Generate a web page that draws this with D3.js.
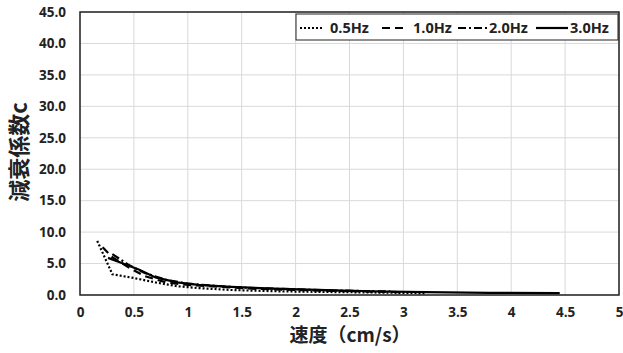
<!DOCTYPE html>
<html>
<head>
<meta charset="utf-8">
<script src="https://d3js.org/d3.v7.min.js"></script>
<style>
body { margin: 0; background: #fff; }
text { font-family: "Noto Sans CJK JP", "Noto Sans", sans-serif; font-weight: bold; }
</style>
</head>
<body>
<script>
// 各周波数の測定値
var seriesNames = ["0.5Hz", "1.0Hz", "2.0Hz", "3.0Hz"];
var speed05 = [0.16, 0.3, 0.5, 0.7, 0.9, 1.1, 1.4, 1.8, 2.2, 2.7, 3.2];
var damp05  = [8.6, 3.3, 2.7, 2.0, 1.4, 1.1, 0.8, 0.6, 0.5, 0.4, 0.3];
var speed10 = [0.21, 0.3, 0.45, 0.6, 0.8, 1.0, 1.3, 1.6, 2.0, 2.5, 3.0];
var damp10  = [7.6, 6.0, 4.4, 3.0, 2.0, 1.6, 1.3, 1.0, 0.8, 0.6, 0.45];
var speed20 = [0.3, 0.45, 0.6, 0.8, 1.0, 1.3, 1.6, 2.0, 2.4, 2.9];
var damp20  = [6.5, 4.8, 3.5, 2.4, 1.8, 1.4, 1.1, 0.9, 0.7, 0.55];
var speed30 = [0.26, 0.4, 0.55, 0.7, 0.9, 1.1, 1.4, 1.8, 2.2, 2.7, 3.2, 3.8, 4.45];
var damp30  = [5.9, 5.0, 4.0, 2.8, 2.0, 1.6, 1.3, 1.0, 0.8, 0.6, 0.45, 0.35, 0.3];
var xTicks = [0, 0.5, 1, 1.5, 2, 2.5, 3, 3.5, 4, 4.5, 5];
var yTicks = [0, 5, 10, 15, 20, 25, 30, 35, 40, 45];

var w = 623, h = 353;
var pL = 80, pR = 619, pT = 12, pB = 295;

var svg = d3.select("body").append("svg").attr("width", w).attr("height", h);

var x = d3.scaleLinear().domain([0, 5]).range([pL, pR]);
var y = d3.scaleLinear().domain([0, 45]).range([pB, pT]);

// グリッド
svg.append("g").selectAll("line").data(xTicks).enter().append("line")
  .attr("x1", d => x(d)).attr("x2", d => x(d))
  .attr("y1", pT).attr("y2", pB)
  .attr("stroke", "#d9d9d9").attr("stroke-width", 1);
svg.append("g").selectAll("line").data(yTicks).enter().append("line")
  .attr("x1", pL).attr("x2", pR)
  .attr("y1", d => y(d)).attr("y2", d => y(d))
  .attr("stroke", "#d9d9d9").attr("stroke-width", 1);

// 軸
var xAxis = svg.append("g").attr("transform", "translate(0," + pB + ")")
  .call(d3.axisBottom(x).tickValues(xTicks).tickSize(0).tickPadding(12).tickFormat(d3.format("")));
var yAxis = svg.append("g").attr("transform", "translate(" + pL + ",0)")
  .call(d3.axisLeft(y).tickValues(yTicks).tickSize(0).tickPadding(14).tickFormat(d3.format(".1f")));
[xAxis, yAxis].forEach(function(a) {
  a.select(".domain").remove();
  a.selectAll("text").attr("font-size", 13.5).attr("fill", "#222")
    .style("font-family", "\"Open Sans\", sans-serif").style("font-weight", "bold");
});

// 枠
svg.append("rect").attr("x", pL).attr("y", pT)
  .attr("width", pR - pL).attr("height", pB - pT)
  .attr("fill", "none").attr("stroke", "#222").attr("stroke-width", 1.5);

var dashes = ["2,2", "8,5", "8,3,2,3", null];
var xs = [speed05, speed10, speed20, speed30];
var ys = [damp05, damp10, damp20, damp30];

var line = d3.line().x(d => x(d[0])).y(d => y(d[1]));

seriesNames.forEach(function(name, i) {
  var pts = d3.zip(xs[i], ys[i]);
  svg.append("path").datum(pts)
    .attr("d", line)
    .attr("fill", "none")
    .attr("stroke", "#000")
    .attr("stroke-width", 2.2)
    .attr("stroke-dasharray", dashes[i]);
});

// 凡例
var lg = svg.append("g");
lg.append("rect").attr("x", 296).attr("y", 14).attr("width", 322).attr("height", 26)
  .attr("fill", "#fff").attr("stroke", "#222").attr("stroke-width", 1);
var lgX = [[300, 323, 330], [382, 406, 413], [458, 487, 489], [536, 568, 570]];
seriesNames.forEach(function(name, i) {
  lg.append("line").attr("x1", lgX[i][0]).attr("x2", lgX[i][1])
    .attr("y1", 28).attr("y2", 28)
    .attr("stroke", "#000").attr("stroke-width", 2.2)
    .attr("stroke-dasharray", dashes[i]);
  lg.append("text").attr("x", lgX[i][2]).attr("y", 33)
    .attr("font-size", 14.5).attr("fill", "#222")
    .style("font-family", "\"Open Sans\", sans-serif")
    .text(name);
});

// 軸タイトル
svg.append("text").attr("x", 350).attr("y", 342).attr("text-anchor", "middle")
  .attr("font-size", 19).attr("fill", "#222").text("速度（cm/s）");
svg.append("text").attr("transform", "translate(27,152) rotate(-90)")
  .attr("text-anchor", "middle").attr("font-size", 22).attr("fill", "#222").text("減衰係数c");
</script>
</body>
</html>
